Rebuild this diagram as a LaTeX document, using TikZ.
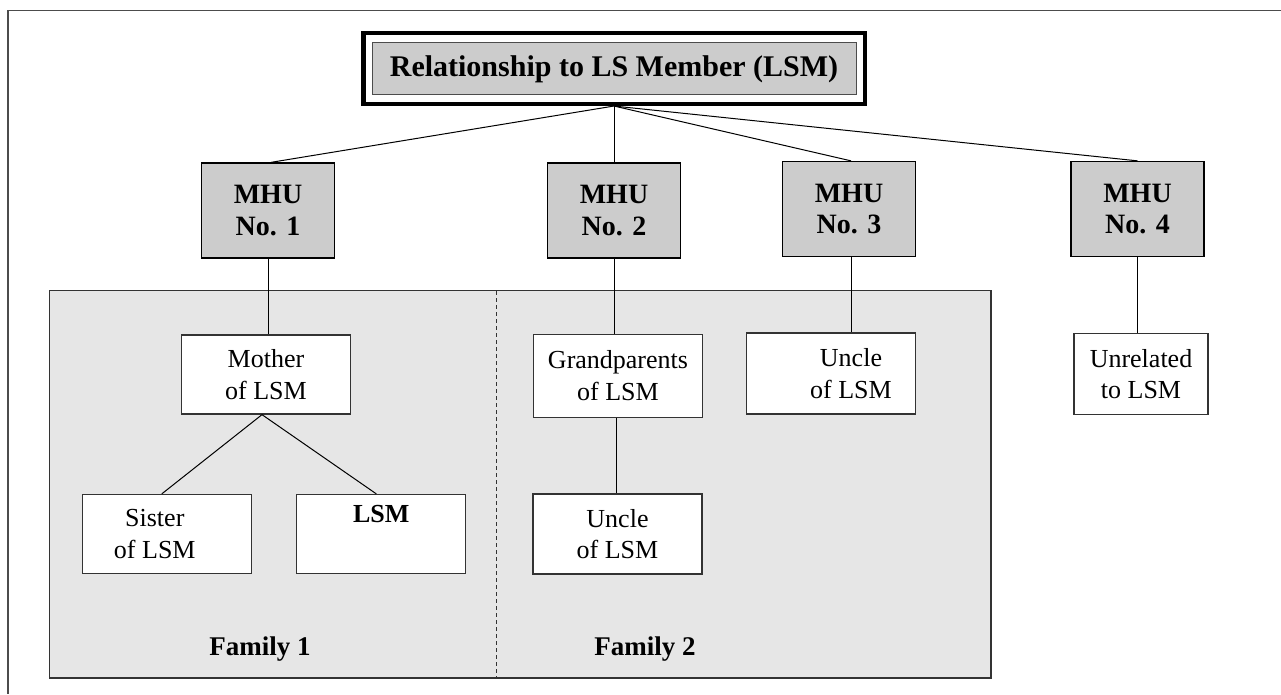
\documentclass[tikz,border=0pt]{standalone}
\usepackage{fontspec}
\setmainfont{Liberation Serif}
\definecolor{boxgray}{HTML}{CCCCCC}
\definecolor{famgray}{HTML}{E6E6E6}
\definecolor{edge}{HTML}{333333}
\begin{document}
\begin{tikzpicture}[x=1pt,y=-1pt,
  conn/.style={draw=black,line width=1pt},
  mhu/.style={draw=black,line width=1.3pt,fill=boxgray,minimum width=133pt,minimum height=95pt,inner sep=0pt,align=center,font=\fontsize{28}{31.5}\selectfont\bfseries},
  kid/.style={draw=edge,line width=1.3pt,fill=white,minimum width=169pt,minimum height=80pt,inner sep=0pt,align=center,font=\fontsize{26}{31.7}\selectfont},
  famlabel/.style={anchor=base,inner sep=0pt,font=\fontsize{27}{30}\selectfont\bfseries}]
\useasboundingbox (0,0) rectangle (1281,694);
% outer frame (top and left edges)
\draw[draw=black!70,line width=1.5pt] (1281,10.5) -- (8.2,10.5) -- (8.2,694);
% family area
\draw[draw=edge,line width=1.3pt,fill=famgray] (49.3,290.7) rectangle (991,678);
\draw[draw=edge,line width=1pt,dashed,dash pattern=on 4pt off 3pt] (496,291) -- (496,678);
\node[famlabel] (fam1) at (260,655.7) {Family 1};
\node[famlabel] (fam2) at (645,655.7) {Family 2};
% title
\node[draw=black,line width=4.5pt,minimum width=501.5pt,minimum height=70.75pt,inner sep=0pt] (titleframe) at (614,68.4) {};
\node[draw=black!70,line width=1pt,fill=boxgray,minimum width=484pt,minimum height=52pt,inner sep=0pt,font=\fontsize{30}{34}\selectfont\bfseries] (title) at (614,68.8) {Relationship to LS Member (LSM)};
% MHU boxes
\node[mhu] (mhu1) at (268,210.5) {MHU\\No. 1};
\node[mhu] (mhu2) at (614,210.5) {MHU\\No. 2};
\node[mhu] (mhu3) at (849,209) {MHU\\No. 3};
\node[mhu] (mhu4) at (1137.5,209) {MHU\\No. 4};
% child boxes
\node[kid,minimum height=79pt] (mother) at (266,374.5) {Mother\\of LSM};
\node[kid,minimum height=79pt] (sister) at (166.8,534) {Sister\hspace*{24pt}\\of LSM\hspace*{24pt}};
\node[kid,minimum height=79pt] (lsm) at (381.3,534) {\textbf{LSM}\\\strut};
\node[kid,minimum height=83pt] (grand) at (618,375.8) {Grandparents\\of LSM};
\node[kid] (uncle2) at (617.5,534) {Uncle\\of LSM};
\node[kid,minimum height=81pt] (uncle3) at (831,373.5) {\hspace*{40pt}Uncle\\\hspace*{40pt}of LSM};
\node[kid,minimum width=134pt,minimum height=81pt] (unrel) at (1141,374) {Unrelated\\to LSM};
% connectors from title
\draw[conn] (titleframe.south) -- ([xshift=3pt]mhu1.north);
\draw[conn] (titleframe.south) -- (mhu2.north);
\draw[conn] (titleframe.south) -- ([xshift=2pt]mhu3.north);
\draw[conn] (titleframe.south) -- (mhu4.north);
% connectors down
\draw[conn] (mhu1.south) -- (mhu1.south |- mother.north);
\draw[conn] (mhu2.south) -- (mhu2.south |- grand.north);
\draw[conn] ([xshift=2pt]mhu3.south) -- ([xshift=2pt]mhu3.south |- uncle3.north);
\draw[conn] (mhu4.south) -- (mhu4.south |- unrel.north);
\draw[conn] ([xshift=-4pt]mother.south) -- ([xshift=-5pt]sister.north);
\draw[conn] ([xshift=-4pt]mother.south) -- ([xshift=-5pt]lsm.north);
\draw[conn] ([xshift=-2pt]grand.south) -- ([xshift=-2pt]grand.south |- uncle2.north);
\end{tikzpicture}
\end{document}
